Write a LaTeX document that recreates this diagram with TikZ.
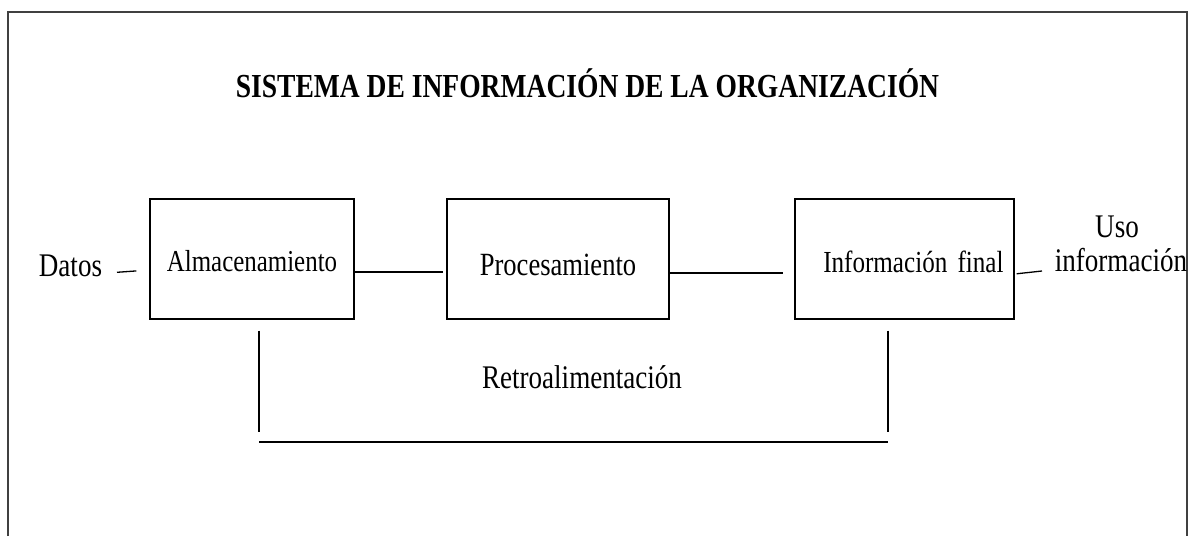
\documentclass[tikz,border=0pt]{standalone}
\usepackage{fontspec}
\setmainfont{Liberation Serif}[FakeStretch=0.82]

\begin{document}
\begin{tikzpicture}[x=0.5pt, y=-0.5pt,
        box/.style={draw, line width=0.65pt, inner sep=0pt, minimum height=60pt, text depth=4pt},
        conn/.style={line width=0.65pt},
        txt/.style={anchor=base, inner sep=0pt, font=\fontsize{16.5}{17}\selectfont}]
        \useasboundingbox (0,0) rectangle (1188,536);
        % marco
        \draw[black!75, line width=1pt] (8.3,536) |- (1186.5,12) -- (1186.5,536);
        \node[txt, font=\fontsize{16.8}{18}\selectfont\bfseries] (titulo) at (587.5,97) {SISTEMA DE INFORMACIÓN DE LA ORGANIZACIÓN};
        % bloques
        \node[box, minimum width=102pt, text height=16pt, font=\fontsize{15.2}{17}\selectfont] (alm) at (252,259) {Almacenamiento};
        \node[box, minimum width=111pt, text height=20pt, font=\fontsize{16.2}{17}\selectfont] (proc) at (558,259) {Procesamiento};
        \node[box, text width=99pt, inner xsep=5.25pt, align=right, text height=17pt, font=\fontsize{15.3}{17}\selectfont] (info) at (904.5,259) {Información final};
        \node[txt] (datos) at (70.5,276) {Datos};
        \node[txt] (uso) at (1117,237) {Uso};
        \node[txt] (usoinfo) at (1121,271) {información};
        \node[txt] (retro) at (582,388) {Retroalimentación};
        \coordinate (din) at (117,272.3);
        \coordinate (dout) at (1042,271);
        \coordinate (fbl) at (259,432);
        \coordinate (fbr) at (888,432);
        % lineas
        \draw[conn, shorten >=6.5pt] (din) -- ([yshift=-5.5pt]alm.west);
        \draw[conn, shorten >=1.5pt] ([yshift=-6.5pt]alm.east) -- ([yshift=-6.5pt]proc.west);
        \draw[conn, shorten >=5.5pt] ([yshift=-7pt]proc.east) -- ([yshift=-7pt]info.west);
        \draw[conn, shorten <=1pt] ([yshift=-7.5pt]info.east) -- (dout);
        \draw[conn, shorten <=5.5pt] (alm.south -| fbl) -- (fbl);
        \draw[conn, shorten <=5.5pt] (info.south -| fbr) -- (fbr);
        \draw[conn, line width=1pt] ([yshift=-5pt]fbl) -- ([yshift=-5pt]fbr);
\end{tikzpicture}
\end{document}
